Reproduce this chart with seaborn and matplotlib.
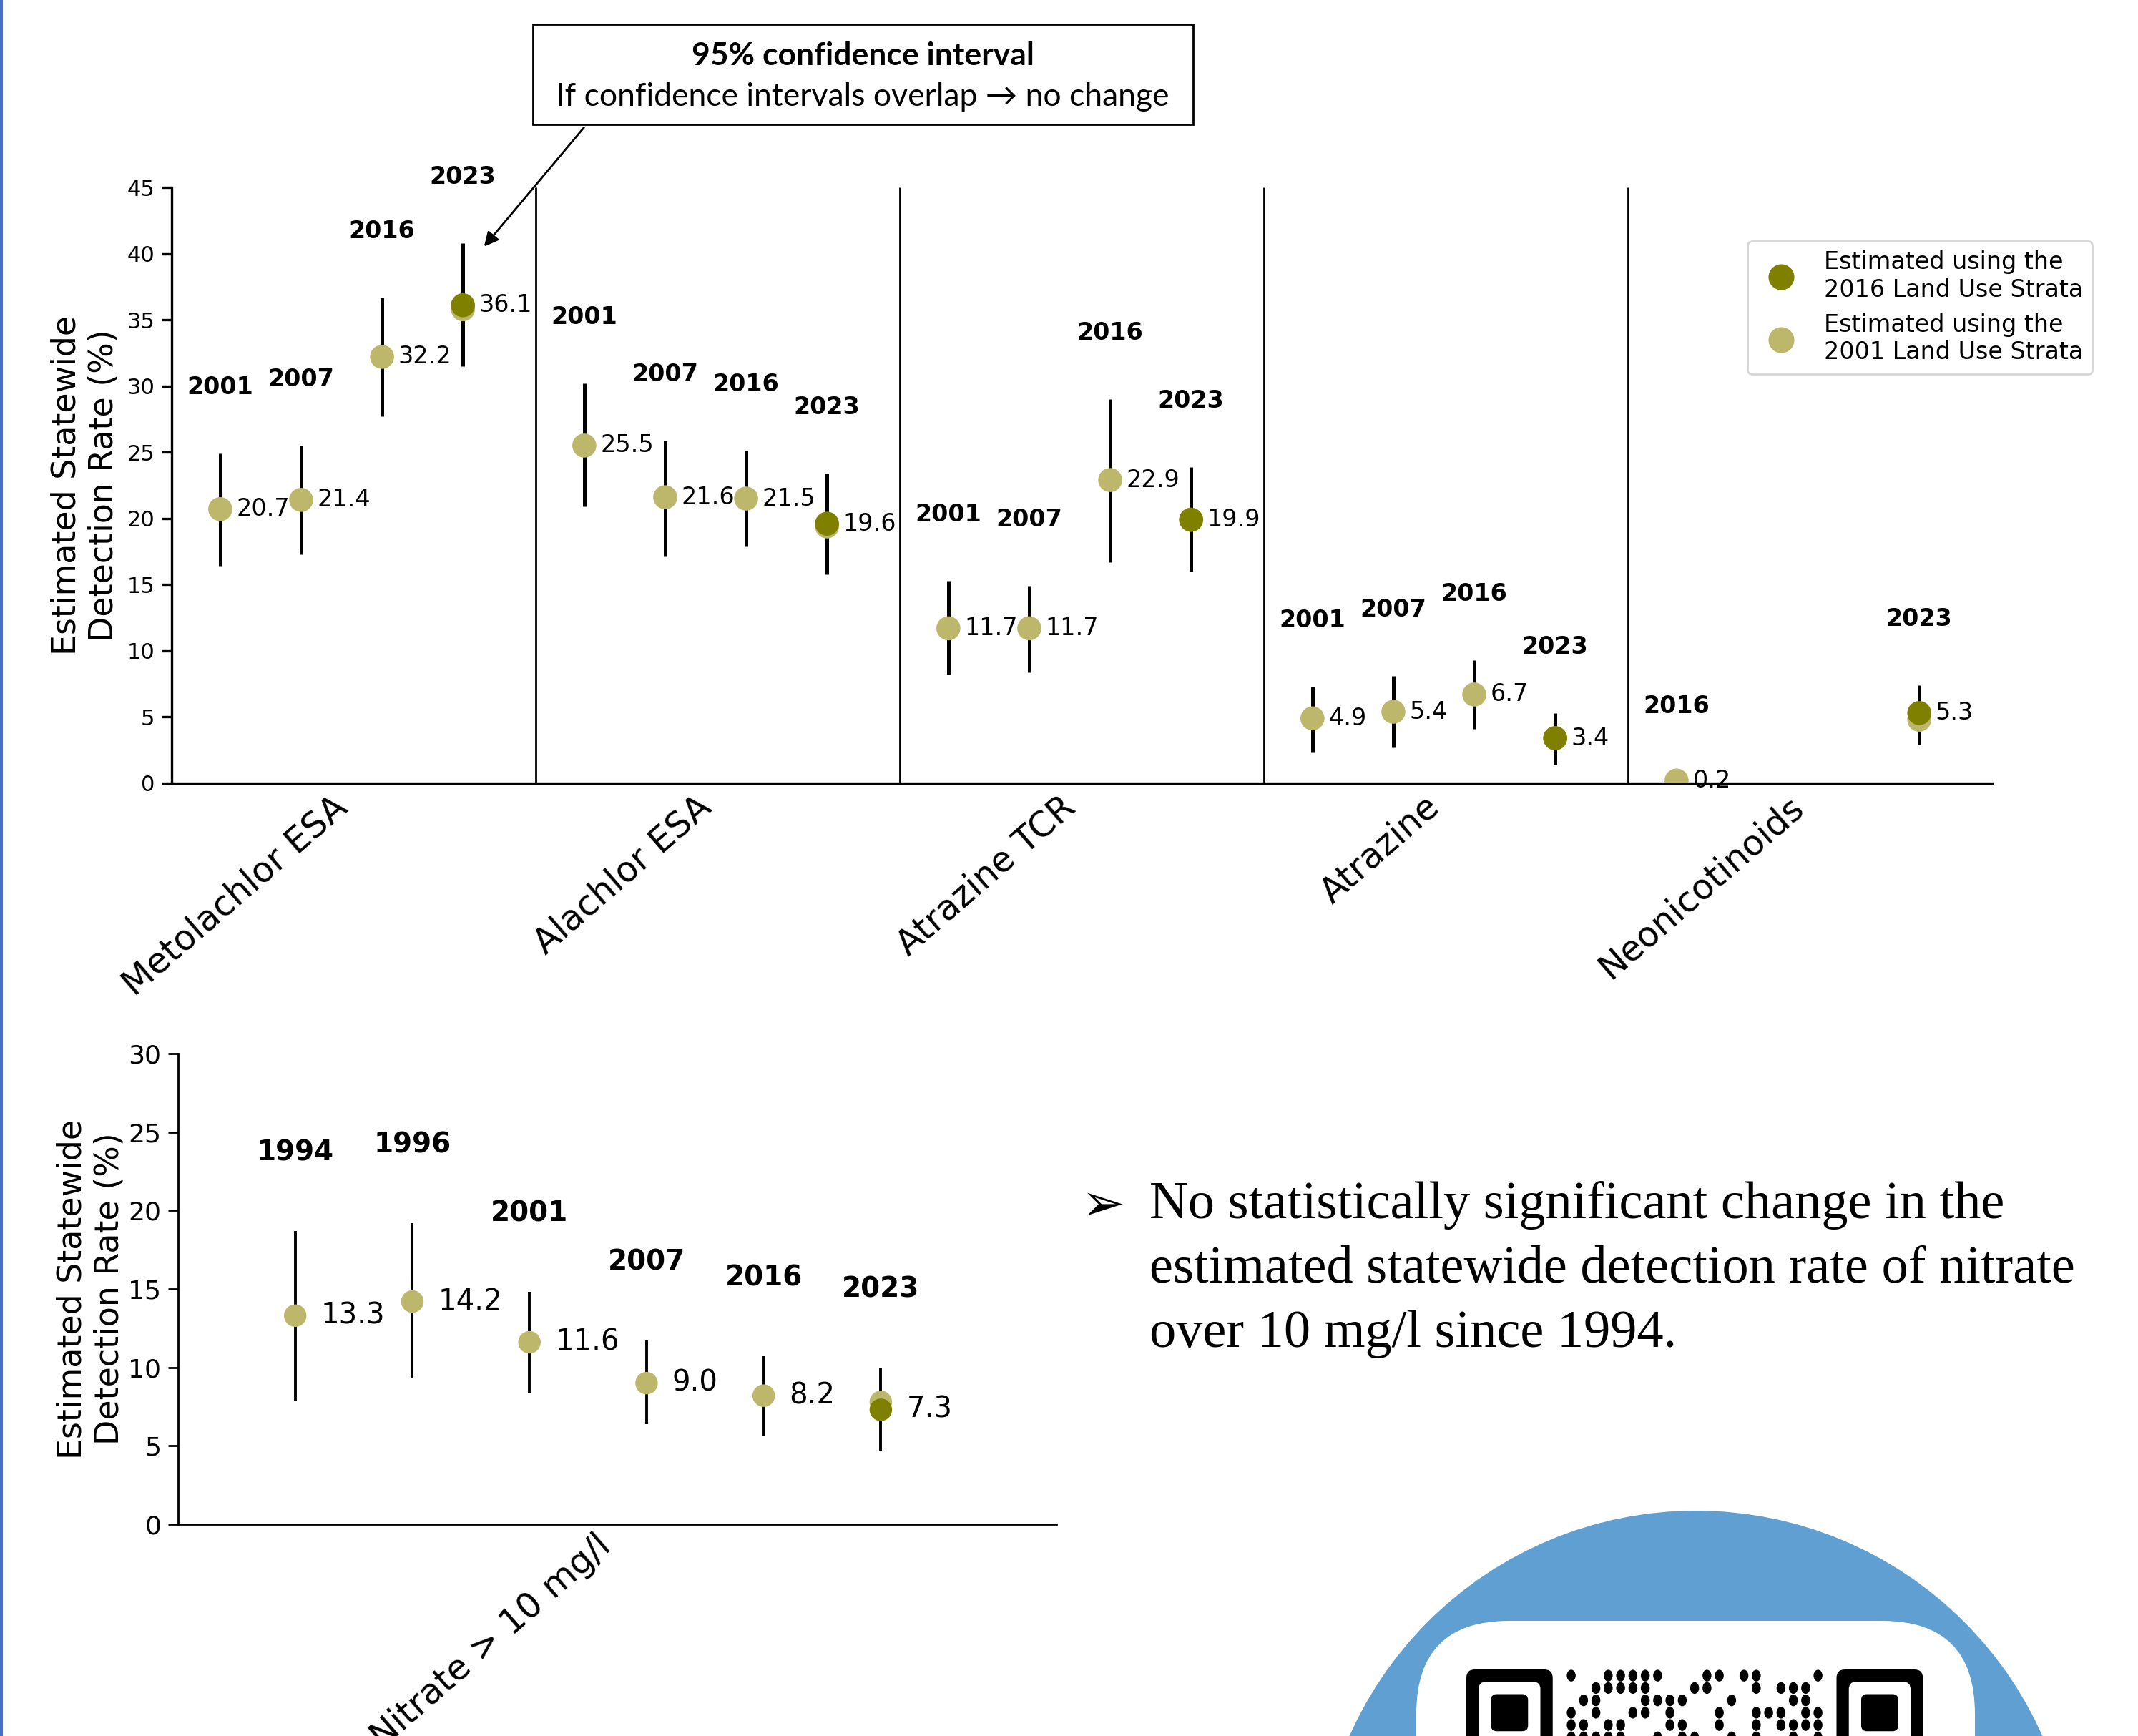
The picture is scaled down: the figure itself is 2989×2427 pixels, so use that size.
import numpy as np
import pandas as pd
import matplotlib.pyplot as plt
import matplotlib.patches as mpatches
from matplotlib.lines import Line2D
import seaborn as sns

# estimated statewide detection rate (%) - pesticides
chemicals = ["Metolachlor ESA", "Alachlor ESA", "Atrazine TCR", "Atrazine", "Neonicotinoids"]
pest_chem = (["Metolachlor ESA"] * 4 + ["Alachlor ESA"] * 4 + ["Atrazine TCR"] * 4
             + ["Atrazine"] * 4 + ["Neonicotinoids"] * 2)
pest_year = [2001, 2007, 2016, 2023] * 4 + [2016, 2023]
pest_est_2001 = [20.7, 21.4, 32.2, 35.8, 25.5, 21.6, 21.5, 19.4, 11.7, 11.7, 22.9, 19.9,
                 4.9, 5.4, 6.7, 3.4, 0.2, 4.8]
pest_est_2016 = [None, None, None, 36.1, None, None, None, 19.6, None, None, None, 19.9,
                 None, None, None, 3.4, None, 5.3]
pest_lo = [16.4, 17.3, 27.7, 31.5, 20.9, 17.1, 17.9, 15.8, 8.2, 8.4, 16.7, 16.0,
           2.3, 2.7, 4.1, 1.4, 0.0, 2.9]
pest_hi = [24.9, 25.5, 36.7, 40.8, 30.2, 25.9, 25.1, 23.4, 15.3, 14.9, 29.0, 23.9,
           7.3, 8.1, 9.3, 5.3, 0.8, 7.4]

# nitrate > 10 mg/l
nit_year = [1994, 1996, 2001, 2007, 2016, 2023]
nit_est_2001 = [13.3, 14.2, 11.6, 9.0, 8.2, 7.8]
nit_est_2016 = [None, None, None, None, None, 7.3]
nit_lo = [7.9, 9.3, 8.4, 6.4, 5.6, 4.7]
nit_hi = [18.7, 19.2, 14.8, 11.7, 10.7, 10.0]

DARK = "#808000"
LIGHT = "#BDB76B"

# decorative QR fragment (rows of data modules that are visible at the page bottom)
qr_rows = [
    "1..11111...11.11....11",
    "..11111...11...1.111.1",
    ".11...1111...1....11..",
    "1.1..11.1...1..111.11.",
    "11.11...11..1..1.1111.",
    "11111..1.11..1.1..1.1.",
]

sns.set_style("ticks")
plt.rcParams["font.family"] = ["DejaVu Sans"]
plt.rcParams.update({"text.color": "black", "axes.labelcolor": "black",
                     "xtick.color": "black", "ytick.color": "black"})

W, H = 2989, 2427
DPI = 200
fig = plt.figure(figsize=(W / DPI, H / DPI), dpi=DPI)


def fx(px):
    return px / W


def fy(py):
    return 1 - py / H


# page decoration layer in pixel units
bg = fig.add_axes([0, 0, 1, 1])
bg.set_xlim(0, W)
bg.set_ylim(H, 0)
bg.axis("off")
bg.plot([1.5, 1.5], [0, H], color="#4472C4", lw=1.5)
bg.add_patch(mpatches.Circle((2371, 2642), 530, color="#5F9FD2", lw=0))
bg.add_patch(mpatches.FancyBboxPatch((1980 + 130, 2266 + 130), 781 - 260, 600,
                                     boxstyle="round,pad=130", fc="white", ec="none"))
m = 17.25
qx0, qy0 = 2050, 2334
for fx0 in (qx0, qx0 + 30 * m):
    bg.add_patch(mpatches.FancyBboxPatch((fx0 + 12, qy0 + 12), 7 * m - 24, 7 * m - 24,
                                         boxstyle="round,pad=12", fc="black", ec="none"))
    bg.add_patch(mpatches.FancyBboxPatch((fx0 + m + 10, qy0 + m + 10), 5 * m - 20, 5 * m - 20,
                                         boxstyle="round,pad=10", fc="white", ec="none"))
    bg.add_patch(mpatches.FancyBboxPatch((fx0 + 2 * m + 8, qy0 + 2 * m + 8), 3 * m - 16, 3 * m - 16,
                                         boxstyle="round,pad=8", fc="black", ec="none"))
for i, row in enumerate(qr_rows):
    for k, c in enumerate(row[:21]):
        if c == "1":
            bg.add_patch(mpatches.Ellipse((qx0 + (k + 8.5) * m, qy0 + (i + 0.5) * m),
                                          0.72 * m, 0.95 * m, fc="black", ec="none"))

# ---------------- top chart: pesticides ----------------
GW = 4.5  # slots per chemical group
pest = pd.DataFrame({"chem": pest_chem, "year": pest_year, "est_2001": pest_est_2001,
                     "est_2016": pest_est_2016, "lo": pest_lo, "hi": pest_hi})
pest["est_2016"] = pd.to_numeric(pest["est_2016"])
pest["gi"] = pest["chem"].map({c: i for i, c in enumerate(chemicals)})
pest["n"] = pest.groupby("chem")["year"].transform("size")
pest["rank"] = pest.groupby("chem").cumcount()
pest["x"] = pest["gi"] * GW + pest["rank"] * 3 / (pest["n"] - 1)

ax1 = fig.add_axes([fx(240), fy(1095), fx(2785 - 240), (1095 - 262) / H])
ax1.vlines(pest["x"], pest["lo"], pest["hi"], color="black", lw=1.8, zorder=2)
sns.scatterplot(data=pest, x="x", y="est_2001", color=LIGHT, s=146, edgecolor="none",
                ax=ax1, zorder=3, legend=False)
sns.scatterplot(data=pest.dropna(subset=["est_2016"]), x="x", y="est_2016", color=DARK,
                s=146, edgecolor="none", ax=ax1, zorder=4, legend=False)
for _, r in pest.iterrows():
    v = r["est_2016"] if pd.notna(r["est_2016"]) else r["est_2001"]
    ax1.text(r["x"] + 0.2, v, f"{v:.1f}", ha="left", va="center", fontsize=12, zorder=5)
    ax1.text(r["x"], r["hi"] + 5, str(r["year"]), ha="center", va="center",
             fontsize=12, fontweight="bold")
ax1.vlines([g * GW - 0.6 for g in range(1, len(chemicals))], 0, 45, color="black", lw=1.0)
ax1.set_xlim(-0.6, len(chemicals) * GW - 0.6)
ax1.set_ylim(0, 45)
ax1.set_yticks(np.arange(0, 46, 5))
ax1.set_xticks([g * GW + 1.65 for g in range(len(chemicals))])
ax1.set_xticklabels(chemicals, rotation=41, ha="right", fontsize=17.6)
ax1.tick_params(axis="x", length=0, pad=3)
ax1.tick_params(axis="y", labelsize=11, length=5, width=1.2)
ax1.set_xlabel("")
ax1.set_ylabel("Estimated Statewide\nDetection Rate (%)", fontsize=16.5, labelpad=3.5)
sns.despine(ax=ax1)
for s in ("left", "bottom"):
    ax1.spines[s].set_linewidth(1.2)
    ax1.spines[s].set_color("black")

handles = [Line2D([], [], ls="", marker="o", ms=12, color=DARK),
           Line2D([], [], ls="", marker="o", ms=12, color=LIGHT)]
fig.legend(handles, ["Estimated using the\n2016 Land Use Strata",
                     "Estimated using the\n2001 Land Use Strata"],
           loc="upper left", bbox_to_anchor=(fx(2443), fy(337)), borderaxespad=0,
           fontsize=12, frameon=True)

# annotation box
fig.patches.append(mpatches.Rectangle((fx(745), fy(174)), fx(1668 - 745), (174 - 34) / H,
                                      transform=fig.transFigure, fc="white", ec="black", lw=1.0))
fig.text(fx(1206), fy(78), "95% confidence interval", ha="center", va="center",
         fontsize=16, fontweight="bold", family=["Lato", "DejaVu Sans"])
fig.text(fx(1206), fy(135), "If confidence intervals overlap \u2192 no change", ha="center",
         va="center", fontsize=16, family=["Lato", "DejaVu Sans"])
ax1.annotate("", xy=(3.23, 40.3), xycoords="data", xytext=(fx(820), fy(174)),
             textcoords="figure fraction",
             arrowprops=dict(arrowstyle="-|>", color="black", lw=1.0, mutation_scale=15))

# ---------------- bottom chart: nitrate ----------------
nit = pd.DataFrame({"year": nit_year, "est_2001": nit_est_2001, "est_2016": nit_est_2016,
                    "lo": nit_lo, "hi": nit_hi})
nit["est_2016"] = pd.to_numeric(nit["est_2016"])
nit["x"] = np.arange(len(nit))

ax2 = fig.add_axes([fx(249), fy(2131), fx(1477 - 249), (2131 - 1473) / H])
ax2.vlines(nit["x"], nit["lo"], nit["hi"], color="black", lw=1.4, zorder=2)
sns.scatterplot(data=nit, x="x", y="est_2001", color=LIGHT, s=128, edgecolor="none",
                ax=ax2, zorder=3, legend=False)
sns.scatterplot(data=nit.dropna(subset=["est_2016"]), x="x", y="est_2016", color=DARK,
                s=128, edgecolor="none", ax=ax2, zorder=4, legend=False)
for _, r in nit.iterrows():
    v = r["est_2016"] if pd.notna(r["est_2016"]) else r["est_2001"]
    ax2.text(r["x"] + 0.22, v, f"{v:.1f}", ha="left", va="center", fontsize=14.5)
    ax2.text(r["x"], r["hi"] + 5, str(int(r["year"])), ha="center", va="center",
             fontsize=14, fontweight="bold")
ax2.set_xlim(-1, len(nit) + 0.5)
ax2.set_ylim(0, 30)
ax2.set_yticks(np.arange(0, 31, 5))
ax2.set_xticks([np.mean(ax2.get_xlim())])
ax2.set_xticklabels(["Nitrate > 10 mg/l"], rotation=41, ha="right", fontsize=17.6)
ax2.tick_params(axis="x", length=0, pad=2)
ax2.tick_params(axis="y", labelsize=13, length=5, width=1.0)
ax2.set_xlabel("")
ax2.set_ylabel("Estimated Statewide\nDetection Rate (%)", fontsize=16.5, labelpad=1.5)
sns.despine(ax=ax2)
for s in ("left", "bottom"):
    ax2.spines[s].set_linewidth(1.0)
    ax2.spines[s].set_color("black")

# bullet text
fig.text(fx(1512), fy(1686), "\u27a2", ha="left", va="center", fontsize=26,
         family=["DejaVu Sans"])
fig.text(fx(1607), fy(1775), "No statistically significant change in the\n"
         "estimated statewide detection rate of nitrate\nover 10 mg/l since 1994.",
         ha="left", va="center", fontsize=26.8, linespacing=1.43,
         family=["Liberation Serif", "DejaVu Serif"])

fig.savefig("out.png", dpi=DPI)
